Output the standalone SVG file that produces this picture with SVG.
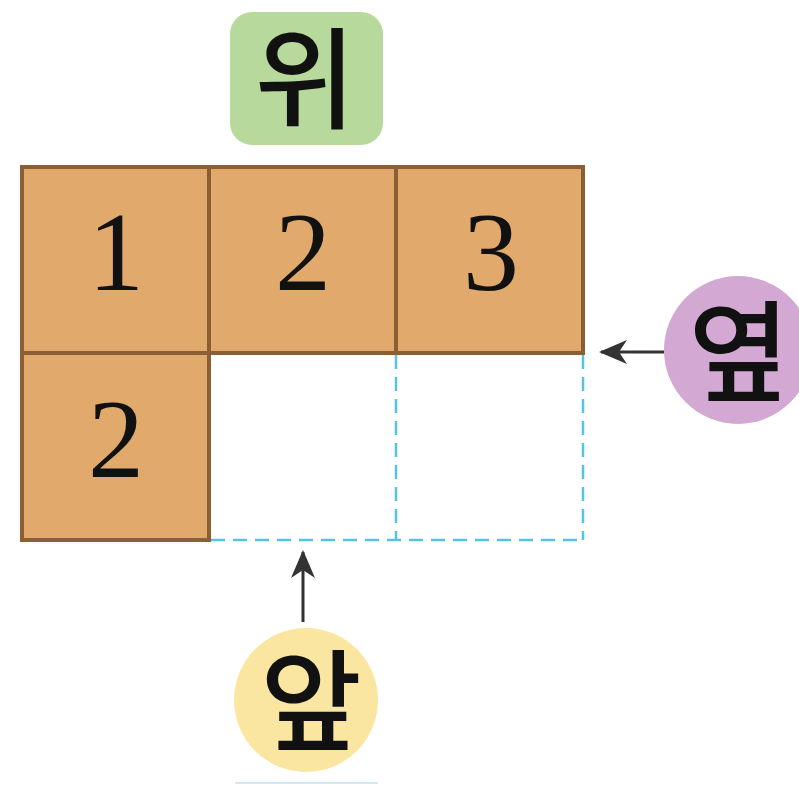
<svg xmlns="http://www.w3.org/2000/svg" width="799" height="785" viewBox="0 0 799 785">
<defs>
<style>
.cell{fill:#e2a96c;stroke:#8c5e34;stroke-width:4}
.dash{fill:none;stroke:#55c3e3;stroke-width:2.5;stroke-dasharray:14 8}
.num{font-family:"Liberation Serif",serif;font-size:112px;fill:#111;text-anchor:middle}
.kor{font-family:"Noto Sans CJK KR",sans-serif;font-weight:500;font-size:110px;fill:#111;text-anchor:middle}
.arr{stroke:#333;stroke-width:3;fill:none}
</style>
<marker id="ah" viewBox="0 0 28 24" refX="26" refY="12" markerWidth="28" markerHeight="24" markerUnits="userSpaceOnUse" orient="auto">
<path d="M0,0 L28,12 L0,24 L8,12 Z" fill="#333"/>
</marker>
</defs>
<rect width="799" height="785" fill="#fff"/>
<g id="cells">
<g id="c1"><rect class="cell" x="22" y="167" width="187" height="186"/><text class="num" x="116" y="290">1</text></g>
<g id="c2"><rect class="cell" x="209" y="167" width="187" height="186"/><text class="num" x="303" y="290">2</text></g>
<g id="c3"><rect class="cell" x="396" y="167" width="187" height="186"/><text class="num" x="491" y="290">3</text></g>
<g id="c4"><rect class="cell" x="22" y="353" width="187" height="187"/><text class="num" x="116" y="477">2</text></g>
</g>
<g id="empty">
<path class="dash" d="M396,355 V540 M583,355 V540 M211,540 H583"/>
</g>
<g id="top">
<rect x="230" y="12" width="153" height="133" rx="22" fill="#b7d99b"/>
<text class="kor" x="305" y="120">위</text>
</g>
<g id="side">
<circle cx="738" cy="350" r="74" fill="#d3a9d3"/>
<text class="kor" x="739" y="393">옆</text>
</g>
<g id="front">
<circle cx="306" cy="700" r="72" fill="#fae6a0"/>
<text class="kor" x="311" y="742">앞</text>
</g>
<g id="connectors">
<line class="arr" x1="664" y1="352" x2="601" y2="352" marker-end="url(#ah)"/>
<line class="arr" x1="303" y1="622" x2="303" y2="552" marker-end="url(#ah)"/>
</g>
<line x1="235" y1="783" x2="378" y2="783" stroke="#cfe9f3" stroke-width="2"/>
</svg>
